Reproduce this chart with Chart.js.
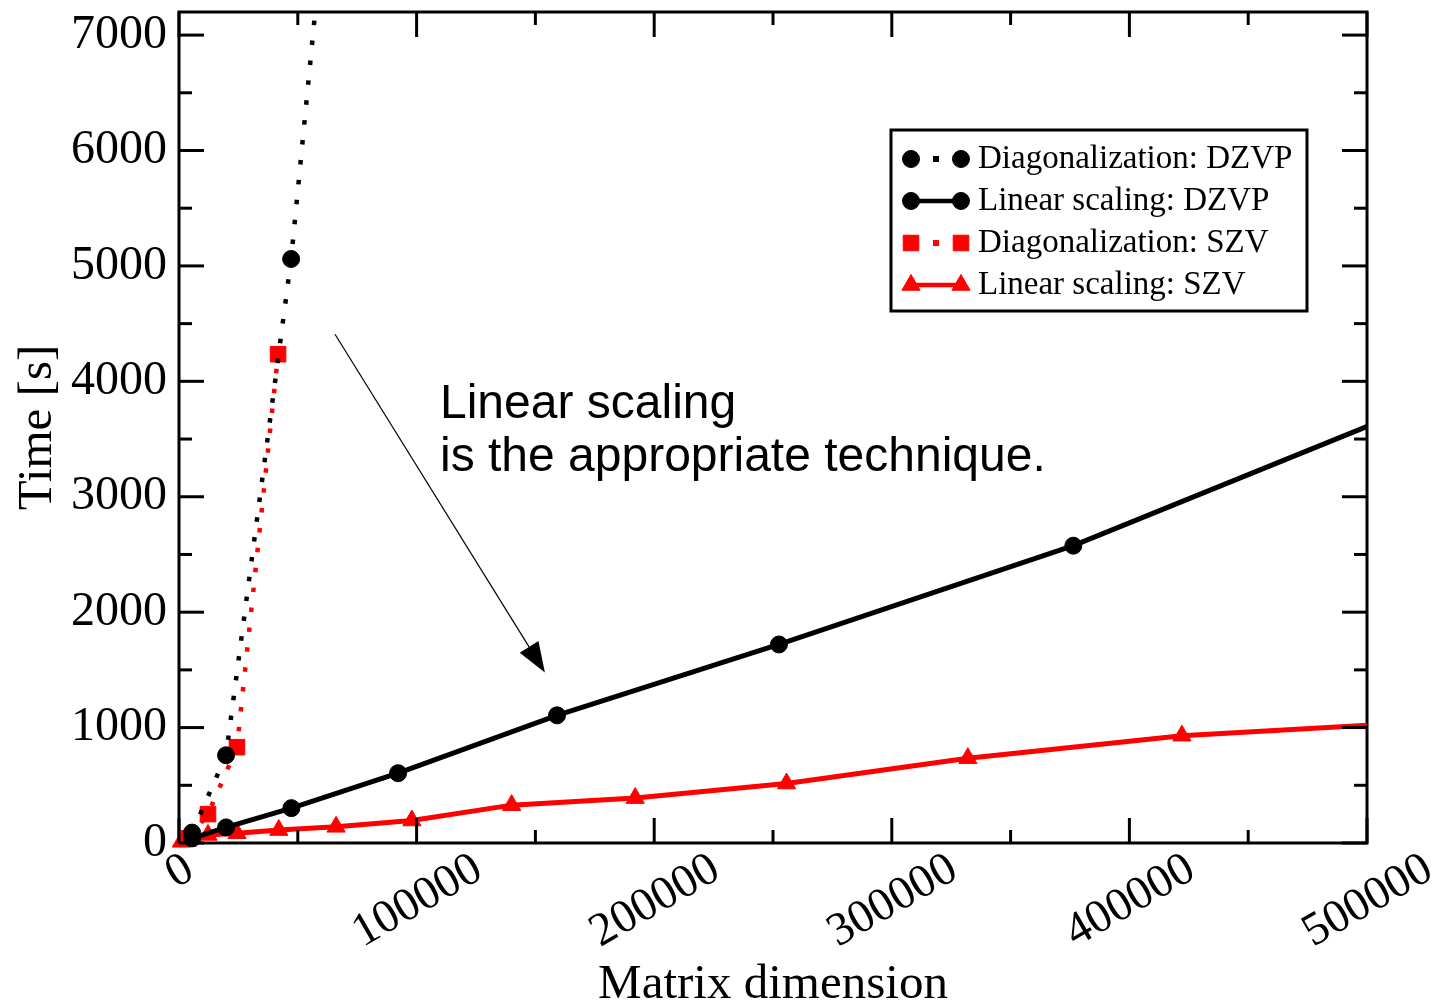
<!DOCTYPE html>
<html>
<head>
<meta charset="utf-8">
<title>Time vs matrix dimension</title>
<script src="https://cdn.jsdelivr.net/npm/chart.js@4.4.1/dist/chart.umd.min.js"></script>
<style>
  html, body { margin: 0; padding: 0; background: #fff; }
  #wrap { position: relative; width: 1441px; height: 1005px; }
</style>
</head>
<body>
<div id="wrap"><canvas id="chart"></canvas></div>
<script>
// matrix dimension / wall time [s] for each run
const diagDzvpX = [5500, 19800, 47200, 80000];
const diagDzvpY = [90, 760, 5060, 12000];

const linDzvpX = [5500, 19800, 47300, 92200, 159100, 252500, 376400, 560000];
const linDzvpY = [40, 135, 302, 605, 1106, 1720, 2576, 4110];

const diagSzvX = [4000, 12200, 24400, 41700];
const diagSzvY = [40, 250, 830, 4235];

const linSzvX = [1000, 12200, 24400, 42000, 66100, 98000, 140000, 192000, 255700, 332000, 422100, 560000];
const linSzvY = [10, 70, 85, 112, 140, 195, 328, 389, 515, 735, 930, 1090];

const xTicks = [0, 100000, 200000, 300000, 400000, 500000];
const yTicks = [0, 1000, 2000, 3000, 4000, 5000, 6000, 7000];
const xMinorStep = 50000;
const yMinorStep = 500;

const xTitle = 'Matrix dimension';
const yTitle = 'Time [s]';
const noteLines = ['Linear scaling', 'is the appropriate technique.'];

(() => {
  const serif = '"Liberation Serif", "DejaVu Serif", serif';
  const sans = '"Liberation Sans", Arial, sans-serif';
  const red = '#ff0000';
  const black = '#000000';

  const toPoints = (xs, ys) => xs.map((x, i) => ({ x, y: ys[i] }));

  // let markers spill over the left/bottom frame, clip lines at top/right
  const clip = { left: 20, bottom: 20, top: 0, right: 0 };

  const datasets = [
    {
      label: 'Diagonalization: DZVP',
      data: toPoints(diagDzvpX, diagDzvpY),
      borderColor: black,
      borderWidth: 4.5,
      borderDash: [4.5, 15.5],
      pointStyle: 'circle',
      pointRadius: 8.5,
      dotted: true
    },
    {
      label: 'Linear scaling: DZVP',
      data: toPoints(linDzvpX, linDzvpY),
      borderColor: black,
      borderWidth: 5,
      pointStyle: 'circle',
      pointRadius: 8.5
    },
    {
      label: 'Diagonalization: SZV',
      data: toPoints(diagSzvX, diagSzvY),
      borderColor: red,
      borderWidth: 4.5,
      borderDash: [4.5, 15.5],
      pointStyle: 'rect',
      pointRadius: 11,
      dotted: true
    },
    {
      label: 'Linear scaling: SZV',
      data: toPoints(linSzvX, linSzvY),
      borderColor: red,
      borderWidth: 5,
      pointStyle: 'triangle',
      pointRadius: 10.5
    }
  ].map(ds => ({
    ...ds,
    backgroundColor: ds.borderColor,
    pointBackgroundColor: ds.borderColor,
    pointBorderColor: ds.borderColor,
    pointBorderWidth: 1,
    tension: 0,
    clip
  }));

  function line(ctx, x1, y1, x2, y2) {
    ctx.beginPath();
    ctx.moveTo(x1, y1);
    ctx.lineTo(x2, y2);
    ctx.stroke();
  }

  function drawTicks(chart) {
    const { ctx, chartArea: a, scales: { x, y } } = chart;
    ctx.save();
    ctx.strokeStyle = black;
    ctx.lineWidth = 3;
    for (let v = x.min; v <= x.max; v += xMinorStep) {
      const px = x.getPixelForValue(v);
      const len = xTicks.includes(v) ? 25 : 13;
      line(ctx, px, a.bottom, px, a.bottom - len);
      line(ctx, px, a.top, px, a.top + len);
    }
    for (let v = y.min; v <= y.max; v += yMinorStep) {
      const py = y.getPixelForValue(v);
      const len = yTicks.includes(v) ? 25 : 13;
      line(ctx, a.left, py, a.left + len, py);
      line(ctx, a.right, py, a.right - len, py);
    }
    ctx.restore();
  }

  function drawXLabels(chart) {
    const { ctx, chartArea: a, scales: { x } } = chart;
    ctx.save();
    ctx.fillStyle = black;
    ctx.font = `47px ${serif}`;
    ctx.textAlign = 'center';
    ctx.textBaseline = 'middle';
    xTicks.forEach(v => {
      const label = String(v);
      const w = ctx.measureText(label).width;
      ctx.save();
      ctx.translate(x.getPixelForValue(v) + 1, a.bottom + 23 + w * 0.25);
      ctx.rotate(-Math.PI / 6);
      ctx.fillText(label, 0, 0);
      ctx.restore();
    });
    ctx.restore();
  }

  function drawTitles(chart) {
    const { ctx, chartArea: a } = chart;
    ctx.save();
    ctx.fillStyle = black;
    ctx.font = `49px ${serif}`;
    ctx.textAlign = 'center';
    ctx.textBaseline = 'alphabetic';
    ctx.fillText(xTitle, (a.left + a.right) / 2, 998);
    ctx.translate(51, (a.top + a.bottom) / 2);
    ctx.rotate(-Math.PI / 2);
    ctx.fillText(yTitle, 0, 0);
    ctx.restore();
  }

  function drawLegend(chart) {
    const { ctx, chartArea: a } = chart;
    const left = a.right - 476;
    const top = a.top + 118;
    ctx.save();
    ctx.fillStyle = '#fff';
    ctx.fillRect(left, top, 416, 181);
    ctx.strokeStyle = black;
    ctx.lineWidth = 3;
    ctx.strokeRect(left, top, 416, 181);

    chart.data.datasets.forEach((ds, i) => {
      const cy = top + 29 + i * 42;
      const x1 = left + 20;
      const x2 = left + 70;
      ctx.strokeStyle = ds.borderColor;
      ctx.fillStyle = ds.borderColor;
      if (ds.dotted) {
        ctx.fillRect((x1 + x2) / 2 - 3, cy - 3, 6, 6);
      } else {
        ctx.lineWidth = 4.5;
        line(ctx, x1, cy, x2, cy);
      }
      const marker = {
        pointStyle: ds.pointStyle,
        radius: ds.pointRadius,
        borderWidth: 1,
        rotation: 0
      };
      ctx.lineWidth = 1;
      Chart.helpers.drawPoint(ctx, marker, x1, cy);
      Chart.helpers.drawPoint(ctx, marker, x2, cy);

      ctx.fillStyle = black;
      ctx.font = `33px ${serif}`;
      ctx.textAlign = 'left';
      ctx.textBaseline = 'middle';
      ctx.fillText(ds.label, left + 87, cy);
    });
    ctx.restore();
  }

  function drawNote(chart) {
    const { ctx, scales: { x, y } } = chart;
    ctx.save();
    ctx.fillStyle = black;
    ctx.font = `48px ${sans}`;
    ctx.textAlign = 'left';
    ctx.textBaseline = 'alphabetic';
    ctx.fillText(noteLines[0], x.getPixelForValue(109850), y.getPixelForValue(3682));
    ctx.fillText(noteLines[1], x.getPixelForValue(109850), y.getPixelForValue(3224));

    // arrow pointing at the linear-scaling curves
    const sx = x.getPixelForValue(65660);
    const sy = y.getPixelForValue(4408);
    const tx = x.getPixelForValue(154000);
    const ty = y.getPixelForValue(1478);
    const ang = Math.atan2(ty - sy, tx - sx);
    const headLen = 30;
    const headHalf = 11;
    const bx = tx - headLen * Math.cos(ang);
    const by = ty - headLen * Math.sin(ang);
    ctx.strokeStyle = black;
    ctx.lineWidth = 1.2;
    line(ctx, sx, sy, bx, by);
    ctx.beginPath();
    ctx.moveTo(tx, ty);
    ctx.lineTo(bx + headHalf * Math.sin(ang), by - headHalf * Math.cos(ang));
    ctx.lineTo(bx - headHalf * Math.sin(ang), by + headHalf * Math.cos(ang));
    ctx.closePath();
    ctx.fill();
    ctx.restore();
  }

  const framePlugin = {
    id: 'frame',
    beforeDatasetsDraw(chart) {
      const { ctx, chartArea: a } = chart;
      ctx.save();
      ctx.strokeStyle = black;
      ctx.lineWidth = 3;
      ctx.strokeRect(a.left, a.top, a.right - a.left, a.bottom - a.top);
      ctx.restore();
    },
    afterDatasetsDraw(chart) {
      drawTicks(chart);
      drawXLabels(chart);
      drawTitles(chart);
      drawNote(chart);
      drawLegend(chart);
    }
  };

  new Chart(document.getElementById('chart').getContext('2d'), {
    type: 'line',
    data: { datasets },
    plugins: [framePlugin],
    options: {
      responsive: true,
      maintainAspectRatio: false,
      animation: false,
      events: [],
      layout: { padding: { top: 10, right: 74, left: 0, bottom: 0 } },
      plugins: {
        legend: { display: false },
        tooltip: { enabled: false }
      },
      scales: {
        x: {
          type: 'linear',
          min: 0,
          max: 500000,
          grid: { display: false },
          border: { display: false },
          ticks: { display: false },
          afterBuildTicks: s => { s.ticks = xTicks.map(value => ({ value })); },
          afterFit: s => {
            s.height = 162;
            s.paddingLeft = 0;
            s.paddingRight = 0;
          }
        },
        y: {
          type: 'linear',
          min: 0,
          max: 7200,
          grid: { display: false, drawTicks: false },
          border: { display: false },
          ticks: {
            color: black,
            padding: 12,
            font: { family: serif, size: 48 },
            callback: v => String(v)
          },
          afterBuildTicks: s => { s.ticks = yTicks.map(value => ({ value })); },
          afterFit: s => {
            s.width = 179;
            s.paddingTop = 0;
            s.paddingBottom = 0;
          }
        }
      }
    }
  });
})();
</script>
</body>
</html>
